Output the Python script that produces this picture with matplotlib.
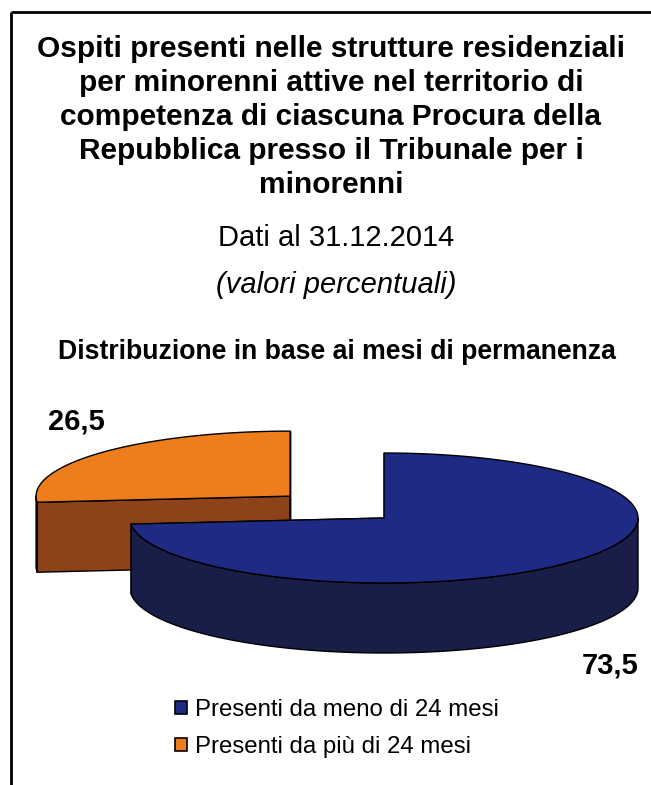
import numpy as np
import matplotlib.pyplot as plt
from matplotlib.patches import Polygon, Patch

plt.rcParams['font.family'] = ['Liberation Sans', 'DejaVu Sans']

# data
labels = ['Presenti da meno di 24 mesi', 'Presenti da più di 24 mesi']
values = [73.5, 26.5]
value_text = ['73,5', '26,5']
title_lines = ['Ospiti presenti nelle strutture residenziali',
               'per minorenni attive nel territorio di',
               'competenza di ciascuna Procura della',
               'Repubblica presso il Tribunale per i',
               'minorenni']
subtitle = 'Dati al 31.12.2014'
unit = '(valori percentuali)'
chart_title = 'Distribuzione in base ai mesi di permanenza'

# styles
top_colors = ['#1F2A84', '#EE7D1E']
side_colors = ['#181E48', '#8E4219']
explode = [0.0, 0.5]

W, H = 651, 785
fig = plt.figure(figsize=(W / 100, H / 100), dpi=100)
ax = fig.add_axes([0, 0, 1, 1])
ax.set_xlim(0, W)
ax.set_ylim(H, 0)
ax.axis('off')

# frame lines (top and left)
ax.plot([11, W], [12, 12], color='k', lw=2, solid_capstyle='butt')
ax.plot([11, 11], [12, H], color='k', lw=2, solid_capstyle='butt')

# 3D pie geometry
cx, cy = 384, 518
rx, ry = 254, 65
depth = 70
edge = dict(edgecolor='k', linewidth=1.0, joinstyle='round')


def arc(t0, t1, ox, oy, dz=0, n=200):
    t = np.linspace(t0, t1, n)
    return np.column_stack([ox + rx * np.cos(t), oy - ry * np.sin(t) + dz])


fracs = np.array(values) / np.sum(values)
starts = np.pi / 2 - 2 * np.pi * np.concatenate([[0], np.cumsum(fracs)[:-1]])
ends = starts - 2 * np.pi * fracs

# draw the back (exploded) slice first
for i in [1, 0]:
    t0, t1 = starts[i], ends[i]
    mid = (t0 + t1) / 2
    ox = cx + explode[i] * rx * np.cos(mid)
    oy = cy - explode[i] * ry * np.sin(mid)
    # radial faces
    for te in (t0, t1):
        p = np.array([ox + rx * np.cos(te), oy - ry * np.sin(te)])
        face = np.array([[ox, oy], p, p + [0, depth], [ox, oy + depth]])
        ax.add_patch(Polygon(face, closed=True, facecolor=side_colors[i], **edge))
    # front curved side: angles where sin < 0
    lo, hi = min(t0, t1), max(t0, t1)
    for k in range(-2, 2):
        a0 = max(lo, np.pi + 2 * np.pi * k)
        a1 = min(hi, 2 * np.pi + 2 * np.pi * k)
        if a1 > a0:
            topa = arc(a0, a1, ox, oy)
            bota = arc(a1, a0, ox, oy, depth)
            ax.add_patch(Polygon(np.vstack([topa, bota]), closed=True,
                                 facecolor=side_colors[i], **edge))
    # top face
    top = np.vstack([[ox, oy], arc(t0, t1, ox, oy)])
    ax.add_patch(Polygon(top, closed=True, facecolor=top_colors[i], **edge))

# value labels
ax.text(610, 665, value_text[0], ha='center', va='center', fontsize=21,
        fontweight='bold')
ax.text(76, 422, value_text[1], ha='center', va='center', fontsize=21,
        fontweight='bold')

# titles
for j, line in enumerate(title_lines):
    ax.text(331, 49 + 34 * j, line, ha='center', va='center', fontsize=21.5,
            fontweight='bold')
ax.text(336, 238, subtitle, ha='center', va='center', fontsize=21)
ax.text(336, 285, unit, ha='center', va='center', fontsize=21, style='italic')
ax.text(337, 352, chart_title, ha='center', va='center', fontsize=19.2,
        fontweight='bold')

# legend
handles = [Patch(facecolor=c, edgecolor='k', linewidth=1.2) for c in top_colors]
ax.legend(handles, labels, loc='upper left', frameon=False,
          bbox_to_anchor=(175 / W, 1 - 699 / H), fontsize=17.3,
          handlelength=0.5, handleheight=0.5, handletextpad=0.33,
          labelspacing=0.62, borderpad=0, borderaxespad=0)

fig.savefig('out.png', dpi=100)
